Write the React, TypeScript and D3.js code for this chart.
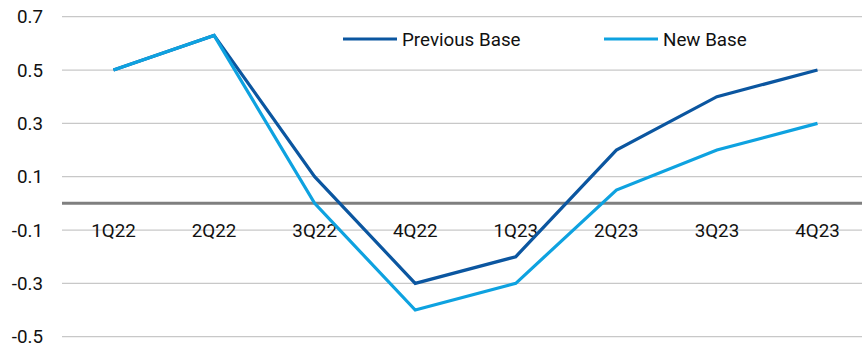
import React from "react";
import * as d3 from "d3";

const categories = ["1Q22", "2Q22", "3Q22", "4Q22", "1Q23", "2Q23", "3Q23", "4Q23"];
const previousBase = [0.5, 0.63, 0.1, -0.3, -0.2, 0.2, 0.4, 0.5];
const newBase = [0.5, 0.63, 0.0, -0.4, -0.3, 0.05, 0.2, 0.3];
const yTicks = [-0.5, -0.3, -0.1, 0.1, 0.3, 0.5, 0.7];
const seriesNames = ["Previous Base", "New Base"];

const W = 862;
const H = 345;
const COLORS = ["#0b56a0", "#0ea2e0"];
const FONT = "Roboto, 'Liberation Sans', sans-serif";
const FS = 18.8;

export default function App() {
  const x = d3.scalePoint<string>().domain(categories).range([113.5, 817.5]);
  const y = d3.scaleLinear().domain([-0.5, 0.7]).range([336.7, 16.7]);
  const line = d3
    .line<number>()
    .x((_, i) => x(categories[i]) as number)
    .y((d) => y(d));
  const series = [previousBase, newBase];
  const legendX = [343, 604];
  return (
    <svg
      width={W}
      height={H}
      style={{ position: "absolute", left: 0, top: 0, display: "block" }}
    >
      <rect width={W} height={H} fill="#fff" />
      {yTicks.map((t) => (
        <g key={t}>
          <line x1={62} x2={W} y1={y(t)} y2={y(t)} stroke="#c8c8c8" strokeWidth={1.2} />
          <text
            x={43}
            y={y(t)}
            dy="0.35em"
            textAnchor="end"
            fontFamily={FONT}
            fontSize={FS}
            fill="#111"
          >
            {t.toFixed(1)}
          </text>
        </g>
      ))}
      <line x1={62} x2={W} y1={y(0)} y2={y(0)} stroke="#7f7f7f" strokeWidth={3} />
      {categories.map((c) => (
        <text
          key={c}
          x={x(c) as number}
          y={237}
          textAnchor="middle"
          fontFamily={FONT}
          fontSize={FS}
          fill="#111"
        >
          {c}
        </text>
      ))}
      {series.map((s, i) => (
        <path
          key={i}
          d={line(s) as string}
          fill="none"
          stroke={COLORS[i]}
          strokeWidth={3.2}
          strokeLinejoin="miter"
        />
      ))}
      {seriesNames.map((n, i) => (
        <g key={n}>
          <line
            x1={legendX[i]}
            x2={legendX[i] + 54}
            y1={39}
            y2={39}
            stroke={COLORS[i]}
            strokeWidth={3.2}
          />
          <text
            x={legendX[i] + 59}
            y={39}
            dy="0.35em"
            fontFamily={FONT}
            fontSize={FS}
            fill="#111"
          >
            {n}
          </text>
        </g>
      ))}
    </svg>
  );
}
